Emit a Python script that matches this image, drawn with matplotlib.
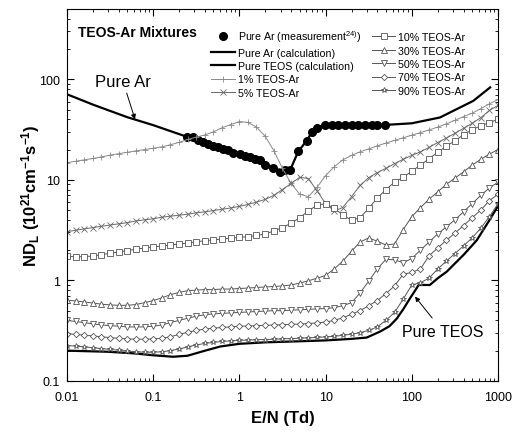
import matplotlib
matplotlib.use('Agg')
import matplotlib.pyplot as plt

plt.rcParams['font.family'] = ['Liberation Sans', 'DejaVu Sans']
plt.rcParams['mathtext.fontset'] = 'custom'
plt.rcParams['mathtext.rm'] = 'Liberation Sans'
plt.rcParams['mathtext.bf'] = 'Liberation Sans:bold'
plt.rcParams['mathtext.default'] = 'regular'

# E/N grid (Td) of the mixture calculations
en_grid = [0.01, 0.0126, 0.0158, 0.02, 0.0251, 0.0316, 0.0398, 0.0501, 0.0631, 0.0794,
           0.1, 0.126, 0.158, 0.2, 0.251, 0.316, 0.398, 0.501, 0.631, 0.794,
           1.0, 1.26, 1.58, 2.0, 2.51, 3.16, 3.98, 5.01, 6.31, 7.94,
           10, 12.6, 15.8, 20, 25.1, 31.6, 39.8, 50.1, 63.1, 79.4,
           100, 126, 158, 200, 251, 316, 398, 501, 631, 794, 1000]

teos_1 = [14.8, 15.3, 15.8, 16.3, 16.9, 17.6, 18.2, 18.8, 19.4, 20.0,
          20.6, 21.3, 22.3, 23.6, 25.2, 26.6, 28.0, 30.0, 33.0, 35.5,
          38.0, 37.2, 33.5, 27.0, 19.5, 13.0, 9.2, 7.2, 6.8, 8.4,
          11.0, 13.5, 15.8, 17.5, 19.0, 20.3, 21.8, 23.2, 24.7, 26.2,
          27.8, 29.5, 31.3, 33.5, 36.0, 39.0, 42.5, 46.0, 51.0, 57.0, 63.0]

teos_5 = [3.05, 3.15, 3.25, 3.35, 3.45, 3.55, 3.65, 3.75, 3.9, 4.0,
          4.1, 4.25, 4.35, 4.45, 4.55, 4.7, 4.8, 4.95, 5.1, 5.25,
          5.45, 5.7, 6.0, 6.4, 7.0, 8.0, 9.2, 10.6, 10.3, 7.8,
          5.8, 4.9, 5.3, 6.8, 8.8, 10.5, 11.8, 13.0, 14.5, 16.0,
          17.5, 19.0, 21.0, 23.5, 26.0, 29.0, 32.5, 36.5, 41.5, 49.0, 55.0]

teos_10 = [1.73, 1.72, 1.72, 1.75, 1.8, 1.86, 1.92, 1.98, 2.04, 2.1,
           2.15, 2.2, 2.25, 2.3, 2.35, 2.42, 2.48, 2.53, 2.58, 2.63,
           2.68, 2.72, 2.8, 2.9, 3.1, 3.35, 3.7, 4.2, 4.9, 5.6,
           5.8, 5.2, 4.5, 3.95, 4.2, 5.2, 6.6, 8.0, 9.5, 10.6,
           12.2, 14.0, 16.2, 18.8, 21.5, 24.5, 28.0, 31.5, 34.5, 37.0, 40.0]

teos_30 = [0.635, 0.625, 0.61, 0.595, 0.58, 0.57, 0.565, 0.565, 0.575, 0.6,
           0.63, 0.67, 0.72, 0.76, 0.79, 0.8, 0.81, 0.81, 0.82, 0.82,
           0.83, 0.84, 0.85, 0.86, 0.87, 0.88, 0.9, 0.94, 0.99, 1.05,
           1.12, 1.3, 1.55, 1.95, 2.4, 2.65, 2.45, 2.25, 2.3, 3.2,
           4.3, 5.3, 6.4, 7.6, 9.0, 10.4, 12.0, 14.0, 16.0, 18.0, 20.0]

teos_50 = [0.40, 0.39, 0.38, 0.37, 0.36, 0.355, 0.35, 0.345, 0.344, 0.345,
           0.35, 0.36, 0.38, 0.40, 0.42, 0.44, 0.455, 0.465, 0.47, 0.475,
           0.48, 0.485, 0.49, 0.495, 0.50, 0.50, 0.505, 0.51, 0.515, 0.52,
           0.525, 0.535, 0.56, 0.60, 0.75, 0.98, 1.3, 1.62, 1.6, 1.5,
           1.65, 2.0, 2.4, 2.9, 3.4, 4.0, 4.8, 5.8, 7.0, 8.3, 9.5]

teos_70 = [0.295, 0.29, 0.285, 0.28, 0.275, 0.27, 0.265, 0.262, 0.26, 0.26,
           0.262, 0.265, 0.275, 0.29, 0.305, 0.318, 0.328, 0.335, 0.34, 0.345,
           0.35, 0.352, 0.355, 0.357, 0.36, 0.362, 0.365, 0.368, 0.372, 0.378,
           0.385, 0.4, 0.425, 0.46, 0.5, 0.56, 0.63, 0.74, 0.88, 1.15,
           1.2, 1.3, 1.75, 2.1, 2.5, 2.95, 3.5, 4.2, 5.0, 6.2, 7.2]

teos_90 = [0.225, 0.222, 0.218, 0.214, 0.21, 0.206, 0.202, 0.198, 0.195, 0.193,
           0.193, 0.195, 0.2, 0.208, 0.218, 0.228, 0.236, 0.242, 0.247, 0.25,
           0.253, 0.255, 0.257, 0.258, 0.26, 0.262, 0.264, 0.266, 0.268, 0.271,
           0.274, 0.278, 0.284, 0.292, 0.302, 0.318, 0.345, 0.4, 0.48, 0.65,
           0.9, 0.95, 1.05, 1.3, 1.55, 1.85, 2.2, 2.65, 3.3, 4.3, 5.8]

# pure Ar, measured
ar_meas_en = [0.245, 0.29, 0.333, 0.381, 0.435, 0.497, 0.569, 0.65, 0.743, 0.85,
              1.02, 1.16, 1.33, 1.52, 1.73, 1.98, 2.47, 2.96, 3.38, 3.86,
              4.82, 6.03, 6.9, 7.9, 9.85, 11.8, 14.1, 16.8, 20.1, 24.0,
              28.7, 34.3, 39.2, 48.9]
ar_meas_nd = [26.7, 26.7, 24.7, 24.0, 22.9, 21.7, 21.2, 20.1, 19.6, 18.6,
              18.2, 17.3, 16.9, 16.0, 15.6, 14.2, 13.0, 12.0, 12.4, 12.4,
              19.4, 24.4, 30.2, 32.6, 35.5, 35.5, 35.5, 35.5, 35.5, 35.5,
              35.0, 35.5, 35.0, 35.5]

# pure Ar, calculated
ar_calc_en = [0.01, 0.02, 0.05, 0.1, 0.2, 0.25, 0.5, 1.0, 2.0, 3.0, 3.8,
              4.8, 6.0, 7.0, 8.0, 10, 20, 50, 100, 212, 517, 810]
ar_calc_nd = [71, 56, 42, 35, 28.5, 26.7, 21.7, 18.2, 14.5, 12.2, 12.0,
              19.0, 24.4, 30.0, 33.0, 35.3, 35.5, 35.2, 36.5, 41.7, 61, 83]

# pure TEOS, calculated
teos_calc_en = [0.01, 0.03, 0.06, 0.1, 0.17, 0.25, 0.4, 0.6, 1, 2, 5, 10, 20, 30,
                43, 55, 67, 80, 95, 110, 120, 135, 162, 200, 254, 400, 566, 800, 1000]
teos_calc_nd = [0.2, 0.195, 0.188, 0.18, 0.174, 0.178, 0.2, 0.22, 0.234, 0.242, 0.248,
                0.253, 0.262, 0.27, 0.31, 0.35, 0.417, 0.52, 0.66, 0.8, 0.9, 0.9,
                0.9, 1.05, 1.22, 1.8, 2.5, 4.0, 5.5]

fig, ax = plt.subplots(figsize=(5.15, 4.35), dpi=100)
fig.subplots_adjust(left=0.130, right=0.967, bottom=0.122, top=0.977)

ax.plot(ar_meas_en, ar_meas_nd, 'o', color='black', ms=5.5, label='Pure Ar (measurement$^{24)}$)')
ax.plot(ar_calc_en, ar_calc_nd, '-', color='black', lw=1.6, label='Pure Ar (calculation)')
ax.plot(teos_calc_en, teos_calc_nd, '-', color='black', lw=1.6, label='Pure TEOS (calculation)')

mixes = [
    (teos_1, '+', '1% TEOS-Ar', '#8a8a8a'),
    (teos_5, 'x', '5% TEOS-Ar', '#6a6a6a'),
    (teos_10, 's', '10% TEOS-Ar', '#555555'),
    (teos_30, '^', '30% TEOS-Ar', '#555555'),
    (teos_50, 'v', '50% TEOS-Ar', '#555555'),
    (teos_70, 'D', '70% TEOS-Ar', '#555555'),
    (teos_90, '*', '90% TEOS-Ar', '#555555'),
]
for vals, mk, lab, col in mixes:
    ms = 3.2 if mk == 'D' else 4
    ax.plot(en_grid, vals, '-', color=col, lw=0.7, marker=mk, ms=ms,
            mfc='white', mec=col, mew=0.6, label=lab)

ax.set_xscale('log')
ax.set_yscale('log')
ax.set_xlim(0.01, 1000)
ax.set_ylim(0.1, 500)
ax.set_xticks([0.01, 0.1, 1, 10, 100, 1000])
ax.set_xticklabels(['0.01', '0.1', '1', '10', '100', '1000'])
ax.set_yticks([0.1, 1, 10, 100])
ax.set_yticklabels(['0.1', '1', '10', '100'])
ax.tick_params(which='both', direction='in', top=True, right=True, labelsize=9)
ax.tick_params(which='major', length=5)
ax.tick_params(which='minor', length=2.5)
ax.tick_params(axis='x', which='major', pad=7)
ax.tick_params(axis='y', which='major', pad=5)

ax.set_xlabel('E/N (Td)', fontsize=12, fontweight='bold', labelpad=5)
ax.set_ylabel(r'$\mathbf{ND_L\ (10^{21}cm^{-1}s^{-1})}$', fontsize=12, labelpad=-2)

ax.text(0.026, 0.938, 'TEOS-Ar Mixtures', transform=ax.transAxes, fontsize=10,
        fontweight='bold', va='center', ha='left')

ax.annotate('Pure Ar', xy=(0.0616, 40), xytext=(0.0447, 95), fontsize=12,
            ha='center', va='center',
            arrowprops=dict(arrowstyle='-|>', color='black', lw=0.7,
                            mutation_scale=7, shrinkA=1, shrinkB=0))
ax.annotate('Pure TEOS', xy=(109, 0.69), xytext=(230, 0.31), fontsize=11.5,
            ha='center', va='center',
            arrowprops=dict(arrowstyle='-|>', color='black', lw=0.7,
                            mutation_scale=7, shrinkA=3, shrinkB=0))

ax.legend(loc='upper left', bbox_to_anchor=(0.335, 0.948), ncol=2, frameon=False,
          fontsize=7.7, handlelength=2.2, handletextpad=0.25, labelspacing=0.32,
          columnspacing=1.0, borderpad=0, borderaxespad=0, numpoints=1)

fig.savefig('out.png', dpi=100)
